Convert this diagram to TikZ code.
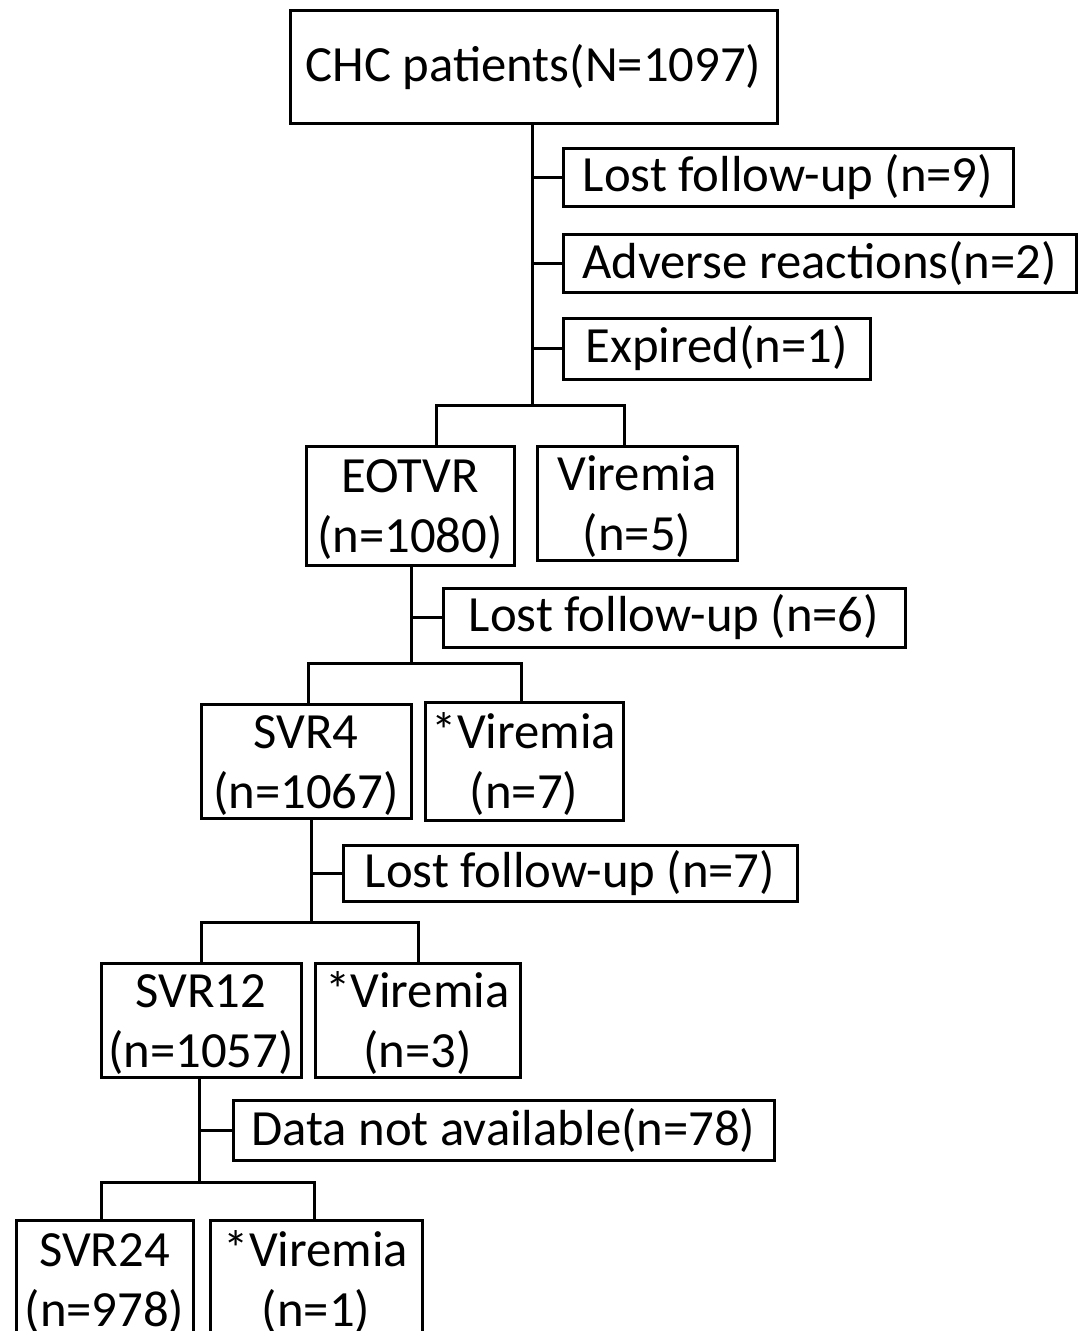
\documentclass[tikz,border=0pt]{standalone}
\usepackage{fontspec}
\setmainfont{Carlito}
\newcommand\mystrutA{\rule{0pt}{42pt}}
\begin{document}
\begin{tikzpicture}[x=1pt,y=-1pt,
  box/.style={draw, line width=3pt, rectangle, inner sep=0pt, align=center,
    font=\fontsize{50.7}{60}\selectfont},
  conn/.style={line width=3pt}]
\useasboundingbox (0,0) rectangle (1082,1331);
% boxes
\node[box, minimum width=487pt, minimum height=112.5pt] (chc) at (533.5,66.75) {CHC patients(N=1097)};
\node[box, minimum width=450pt, minimum height=58pt] (lf1) at (788,177) {Lost follow-up (n=9)};
\node[box, minimum width=513pt, minimum height=58pt] (adv) at (819.5,263) {Adverse reactions(n=2)};
\node[box, minimum width=307pt, minimum height=61pt] (exp) at (716.5,348.5) {Expired(n=1)};
\node[box, minimum width=208pt, minimum height=119pt] (eot) at (410,505.5) {\mystrutA EOTVR\\(n=1080)};
\node[box, minimum width=200pt, minimum height=114pt] (vir1) at (637,503) {\mystrutA Viremia\\(n=5)};
\node[box, minimum width=462pt, minimum height=59pt] (lf2) at (674,617.5) {Lost follow-up (n=6)};
\node[box, minimum width=210pt, minimum height=114pt] (svr4) at (306,761) {\mystrutA SVR4\\(n=1067)};
\node[box, minimum width=198pt, minimum height=118pt] (vir2) at (524,761) {\mystrutA *Viremia\\(n=7)};
\node[box, minimum width=454pt, minimum height=56pt] (lf3) at (570,873) {Lost follow-up (n=7)};
\node[box, minimum width=200pt, minimum height=114pt] (svr12) at (201,1020) {\mystrutA SVR12\\(n=1057)};
\node[box, minimum width=205pt, minimum height=114pt] (vir3) at (417.5,1020) {\mystrutA *Viremia\\(n=3)};
\node[box, minimum width=541pt, minimum height=60pt] (dna) at (503.5,1130) {Data not available(n=78)};
\node[box, minimum width=177pt, minimum height=117pt] (svr24) at (104.5,1278.5) {\mystrutA SVR24\\(n=978)};
\node[box, minimum width=212pt, minimum height=117pt] (vir4) at (316,1278.5) {\mystrutA *Viremia\\(n=1)};
% split coordinates
\coordinate (t1) at (532,405);
\coordinate (s1L) at (436,405);
\coordinate (s1R) at (624,405);
\coordinate (t2) at (411,663);
\coordinate (s2L) at (308,663);
\coordinate (s2R) at (521,663);
\coordinate (t3) at (311,922);
\coordinate (s3L) at (201,922);
\coordinate (s3R) at (418,922);
\coordinate (t4) at (199,1182);
\coordinate (s4L) at (101,1182);
\coordinate (s4R) at (314,1182);
% level 1
\draw[conn] (chc.south -| t1) -- (t1);
\draw[conn] (lf1.west -| t1) -- (lf1.west);
\draw[conn] (adv.west -| t1) -- (adv.west);
\draw[conn] (exp.west -| t1) -- (exp.west);
\draw[conn] (s1L |- eot.north) -- (s1L) -- (s1R) -- (s1R |- vir1.north);
% level 2
\draw[conn] (eot.south -| t2) -- (t2);
\draw[conn] (lf2.west -| t2) -- (lf2.west);
\draw[conn] (s2L |- svr4.north) -- (s2L) -- (s2R) -- (s2R |- vir2.north);
% level 3
\draw[conn] (svr4.south -| t3) -- (t3);
\draw[conn] (lf3.west -| t3) -- (lf3.west);
\draw[conn] (s3L |- svr12.north) -- (s3L) -- (s3R) -- (s3R |- vir3.north);
% level 4
\draw[conn] (svr12.south -| t4) -- (t4);
\draw[conn] (dna.west -| t4) -- (dna.west);
\draw[conn] (s4L |- svr24.north) -- (s4L) -- (s4R) -- (s4R |- vir4.north);
\end{tikzpicture}
\end{document}
